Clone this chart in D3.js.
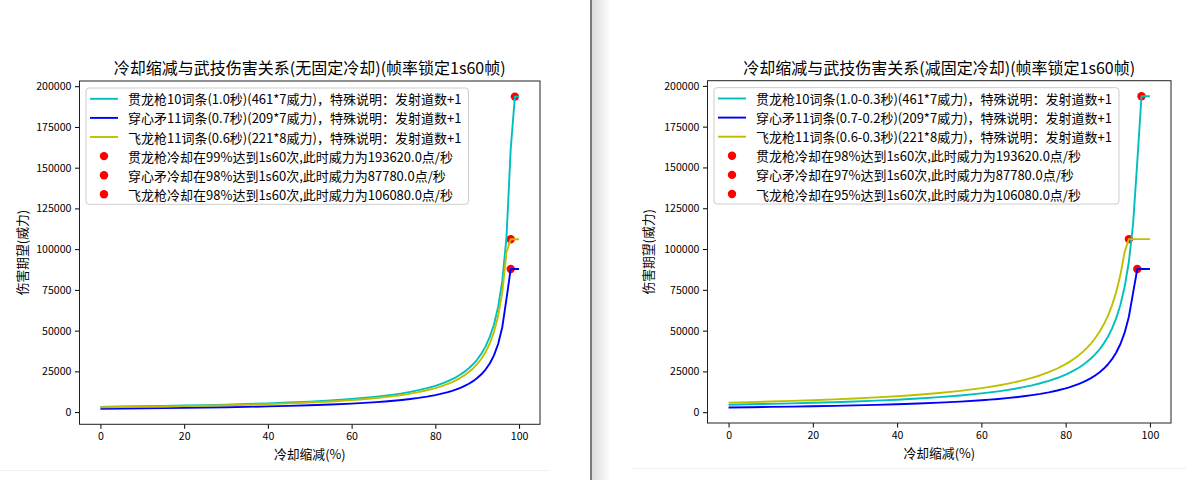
<!DOCTYPE html>
<html>
<head>
<meta charset="utf-8">
<script src="https://cdn.jsdelivr.net/npm/d3@7"></script>
<style>
  html, body { margin: 0; padding: 0; background: #ffffff; }
  svg { display: block; }
  text { font-family: "Noto Sans CJK SC", "Noto Sans", sans-serif; fill: #000; }
</style>
</head>
<body>
<svg id="chart" width="1186" height="480"></svg>
<script>
// ---------------- DATA ----------------
const cdr = [0,5,10,15,20,25,30,35,40,45,50,55,60,62,64,66,68,70,72,74,76,78,80,81,82,83,84,85,86,87,88,89,90,91,92,93,94,95,96,97,98,99,100];

// left chart: 无固定冷却
const guanLeft = [3227,3396.8,3585.6,3796.5,4033.8,4302.7,4610,4964.6,5378.3,5867.3,6454,7171.1,8067.5,8492.1,8963.9,9491.2,10084.4,10756.7,11525,12411.5,13445.8,14668.2,16135,16984.2,17927.8,18982.4,20168.8,21513.3,23050,24823.1,26891.7,29336.4,32270,35855.6,40337.5,46100,53783.3,64540,80675,107566.7,161350,193620,193620];
const chuanLeft = [2090,2200,2322.2,2458.8,2612.5,2786.7,2985.7,3215.4,3483.3,3800,4180,4644.4,5225,5500,5805.6,6147.1,6531.3,6966.7,7464.3,8038.5,8708.3,9500,10450,11000,11611.1,12294.1,13062.5,13933.3,14928.6,16076.9,17416.7,19000,20900,23222.2,26125,29857.1,34833.3,41800,52250,69666.7,87780,87780,87780];
const feiLeft = [2946.7,3101.8,3274.1,3466.7,3683.3,3928.9,4209.5,4533.3,4911.1,5357.6,5893.3,6548.1,7366.7,7754.4,8185.2,8666.7,9208.3,9822.2,10523.8,11333.3,12277.8,13393.9,14733.3,15508.8,16370.4,17333.3,18416.7,19644.4,21047.6,22666.7,24555.6,26787.9,29466.7,32740.7,36833.3,42095.2,49111.1,58933.3,73666.7,98222.2,106080,106080,106080];

// right chart: 减固定冷却
const guanRight = [4610,4852.6,5122.2,5423.5,5762.5,6146.7,6585.7,7092.3,7683.3,8381.8,9220,10244.4,11525,12131.6,12805.6,13558.8,14406.3,15366.7,16464.3,17730.8,19208.3,20954.5,23050,24263.2,25611.1,27117.6,28812.5,30733.3,32928.6,35461.5,38416.7,41909.1,46100,51222.2,57625,65857.1,76833.3,92200,115250,153666.7,193620,193620,193620];
const chuanRight = [2926,3080,3251.1,3442.4,3657.5,3901.3,4180,4501.5,4876.7,5320,5852,6502.2,7315,7700,8127.8,8605.9,9143.8,9753.3,10450,11253.8,12191.7,13300,14630,15400,16255.6,17211.8,18287.5,19506.7,20900,22507.7,24383.3,26600,29260,32511.1,36575,41800,48766.7,58520,73150,87780,87780,87780,87780];
const feiRight = [5893.3,6203.5,6548.1,6933.3,7366.7,7857.8,8419,9066.7,9822.2,10715.2,11786.7,13096.3,14733.3,15508.8,16370.4,17333.3,18416.7,19644.4,21047.6,22666.7,24555.6,26787.9,29466.7,31017.5,32740.7,34666.7,36833.3,39288.9,42095.2,45333.3,49111.1,53575.8,58933.3,65481.5,73666.7,84190.5,98222.2,106080,106080,106080,106080,106080,106080];

// cap points (冷却, 威力)
const capLeftX = [99, 98, 98];
const capLeftY = [193620, 87780, 106080];
const capRightX = [98, 97, 95];
const capRightY = [193620, 87780, 106080];

const lineLabelsLeft = [
  "贯龙枪10词条(1.0秒)(461*7威力)，特殊说明：发射道数+1",
  "穿心矛11词条(0.7秒)(209*7威力)，特殊说明：发射道数+1",
  "飞龙枪11词条(0.6秒)(221*8威力)，特殊说明：发射道数+1"
];
const pointLabelsLeft = [
  "贯龙枪冷却在99%达到1s60次,此时威力为193620.0点/秒",
  "穿心矛冷却在98%达到1s60次,此时威力为87780.0点/秒",
  "飞龙枪冷却在98%达到1s60次,此时威力为106080.0点/秒"
];
const lineLabelsRight = [
  "贯龙枪10词条(1.0-0.3秒)(461*7威力)，特殊说明：发射道数+1",
  "穿心矛11词条(0.7-0.2秒)(209*7威力)，特殊说明：发射道数+1",
  "飞龙枪11词条(0.6-0.3秒)(221*8威力)，特殊说明：发射道数+1"
];
const pointLabelsRight = [
  "贯龙枪冷却在98%达到1s60次,此时威力为193620.0点/秒",
  "穿心矛冷却在97%达到1s60次,此时威力为87780.0点/秒",
  "飞龙枪冷却在95%达到1s60次,此时威力为106080.0点/秒"
];

const titleLeft = "冷却缩减与武技伤害关系(无固定冷却)(帧率锁定1s60帧)";
const titleRight = "冷却缩减与武技伤害关系(减固定冷却)(帧率锁定1s60帧)";
const xLabel = "冷却缩减(%)";
const yLabel = "伤害期望(威力)";
const xTicks = [0, 20, 40, 60, 80, 100];
const yTicks = [0, 25000, 50000, 75000, 100000, 125000, 150000, 175000, 200000];

const lineColors = ["#00bfbf", "#0000ff", "#bfbf00"];
const pointColor = "#ff0000";

// ---------------- DRAW ----------------
const svg = d3.select("#chart");
svg.append("rect").attr("width", 1186).attr("height", 480).attr("fill", "#ffffff");

// window divider between the two images
const defs = svg.append("defs");
const grad = defs.append("linearGradient").attr("id", "divgrad").attr("x1", "0").attr("x2", "1").attr("y1", "0").attr("y2", "0");
grad.append("stop").attr("offset", "0").attr("stop-color", "#dcdcdc");
grad.append("stop").attr("offset", "1").attr("stop-color", "#fbfbfb");
svg.append("line").attr("x1", 0).attr("x2", 549).attr("y1", 470.5).attr("y2", 470.5).attr("stroke", "#f0f0f0");
svg.append("line").attr("x1", 632).attr("x2", 1186).attr("y1", 468.5).attr("y2", 468.5).attr("stroke", "#f0f0f0");
svg.append("rect").attr("x", 592).attr("y", 0).attr("width", 17).attr("height", 480).attr("fill", "url(#divgrad)");
svg.append("rect").attr("x", 590).attr("y", 0).attr("width", 2).attr("height", 480).attr("fill", "#7a7a7a");

function drawPanel(cfg) {
  const g = svg.append("g");
  const allY = cfg.series.flat();
  const yMin = d3.min(allY), yMax = d3.max(allY);
  const pad = (yMax - yMin) * 0.05;
  const x = d3.scaleLinear().domain([-5, 105]).range([cfg.left, cfg.right]);
  const y = d3.scaleLinear().domain([yMin - pad, yMax + pad]).range([cfg.bottom, cfg.top]);

  // axes
  const xAxis = d3.axisBottom(x).tickValues(xTicks).tickSize(4.5).tickPadding(3.5).tickFormat(d3.format("d"));
  const yAxis = d3.axisLeft(y).tickValues(yTicks).tickSize(4.5).tickPadding(3.5).tickFormat(d3.format("d"));
  const gx = g.append("g").attr("transform", `translate(0,${cfg.bottom})`).call(xAxis);
  const gy = g.append("g").attr("transform", `translate(${cfg.left},0)`).call(yAxis);
  [gx, gy].forEach(a => {
    a.select(".domain").remove();
    a.selectAll(".tick line").attr("stroke", "#000").attr("stroke-width", 1);
    a.selectAll(".tick text").attr("font-family", "'Noto Sans CJK SC', sans-serif").attr("font-size", 10.6).attr("fill", "#000");
  });

  // scatter first (below lines, matplotlib zorder)
  const pts = cfg.capX.map((v, i) => ({x: v, y: cfg.capY[i]}));
  g.append("g").selectAll("circle").data(pts).join("circle")
    .attr("cx", d => x(d.x)).attr("cy", d => y(d.y)).attr("r", 4.2).attr("fill", pointColor);

  // lines
  const line = d3.line().x((d, i) => x(cdr[i])).y(d => y(d));
  cfg.series.forEach((s, k) => {
    g.append("path").datum(s).attr("d", line).attr("fill", "none")
      .attr("stroke", lineColors[k]).attr("stroke-width", 1.9).attr("stroke-linejoin", "round");
  });

  // frame
  g.append("rect").attr("x", cfg.left).attr("y", cfg.top)
    .attr("width", cfg.right - cfg.left).attr("height", cfg.bottom - cfg.top)
    .attr("fill", "none").attr("stroke", "#222").attr("stroke-width", 1);

  // title and labels
  const cx = (cfg.left + cfg.right) / 2;
  g.append("text").attr("x", cx).attr("y", cfg.top - 7).attr("text-anchor", "middle")
    .attr("font-size", 16).text(cfg.title);
  g.append("text").attr("x", cx).attr("y", cfg.bottom + 35).attr("text-anchor", "middle")
    .attr("font-size", 12.8).text(xLabel);
  g.append("text").attr("transform", `translate(${cfg.ylabelX},${(cfg.top + cfg.bottom) / 2}) rotate(-90)`)
    .attr("text-anchor", "middle").attr("dominant-baseline", "central")
    .attr("font-size", 12.8).text(yLabel);

  // legend
  const lg = g.append("g");
  const bx = cfg.left + 6.5, by = cfg.top + 7;
  const box = lg.append("rect").attr("x", bx).attr("y", by).attr("rx", 3).attr("ry", 3)
    .attr("fill", "#ffffff").attr("fill-opacity", 0.8).attr("stroke", "#cccccc").attr("stroke-width", 1);
  const rowH = 19.1;
  const labels = cfg.lineLabels.concat(cfg.pointLabels);
  let maxW = 0;
  labels.forEach((t, i) => {
    const ry = by + 10.8 + i * rowH;
    if (i < 3) {
      lg.append("line").attr("x1", bx + 4).attr("x2", bx + 32).attr("y1", ry).attr("y2", ry)
        .attr("stroke", lineColors[i]).attr("stroke-width", 1.9);
    } else {
      lg.append("circle").attr("cx", bx + 18).attr("cy", ry).attr("r", 4.2).attr("fill", pointColor);
    }
    const tx = lg.append("text").attr("x", bx + 42).attr("y", ry).attr("dominant-baseline", "central")
      .attr("font-size", 13).text(t);
    maxW = Math.max(maxW, tx.node().getComputedTextLength());
  });
  box.attr("width", 42 + maxW + 7).attr("height", 10.8 + 5 * rowH + 10);
}

drawPanel({
  left: 79.5, right: 540, top: 81, bottom: 424.3, ylabelX: 21,
  series: [guanLeft, chuanLeft, feiLeft],
  capX: capLeftX, capY: capLeftY,
  lineLabels: lineLabelsLeft, pointLabels: pointLabelsLeft, title: titleLeft
});
drawPanel({
  left: 707.5, right: 1171, top: 80.7, bottom: 423, ylabelX: 647.5,
  series: [guanRight, chuanRight, feiRight],
  capX: capRightX, capY: capRightY,
  lineLabels: lineLabelsRight, pointLabels: pointLabelsRight, title: titleRight
});
</script>
</body>
</html>
